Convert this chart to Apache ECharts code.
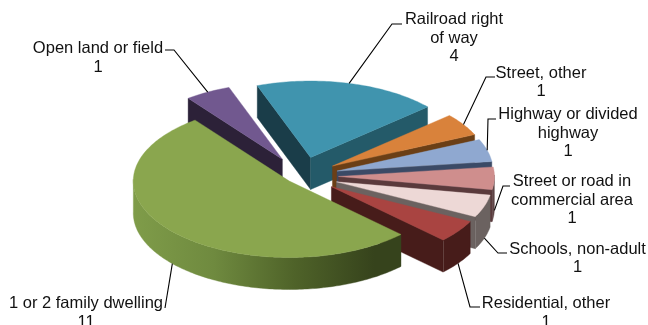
<!DOCTYPE html>
<html><head><meta charset="utf-8">
<style>html,body{margin:0;padding:0;background:#fff}#c{width:648px;height:325px}</style>
<script src="https://cdn.jsdelivr.net/npm/echarts@6/dist/echarts.min.js"></script>
</head><body><div id="c"></div>
<script>
// ---- data (clockwise from the Railroad slice) ----
const categories = ['Railroad right\nof way','Street, other','Highway or divided\nhighway','Street or road in\ncommercial area','Schools, non-adult','Residential, other','1 or 2 family dwelling','Open land or field'];
const counts = [4,1,1,1,1,1,11,1];
// ---- presentation ----
const explodeBy = [.25,.24,.24,.24,.24,.24,.1,.25];
const topColors = ['#4094ae','#d9823b','#8fa8d0','#cf8e8d','#edd8d6','#a94441','#8aa64e','#71588f'];
const cutInColors = ['#1a3d49','#6b3f16','#3b4a66','#5a3a3c','#6b6260','#471c1a','#36431c','#2c2138'];
const cutOutColors = ['#245a69','#6b3f16','#3b4a66','#5a3a3c','#6b6260','#471c1a','#36431c','#2c2138'];
const arcColors = ['#245a69','#6b3f16','#3b4a66','#5f4546','#6b6260','#471c1a',null,'#2c2138'];
const drawOrder = [7,0,1,2,3,4,5,6];
const labelBoxes = [
  {x:454,y:38,line:[[392,24],[402,24]]},
  {x:541,y:82.5,line:[[486,77],[495,77]]},
  {x:568,y:133,line:[[488,119],[496,119]]},
  {x:572,y:200,line:[[503,186],[510,186]]},
  {x:577.5,y:258.5,line:[[498,253],[507,253]]},
  {x:546,y:313,line:[[470,307],[480,307]]},
  {x:86,y:313,line:[[165,308]]},
  {x:98,y:58,line:[[174,50],[165,50]]}
];
const view = {cx:301,cy:176,R:156,k:.49,H:32,start:-20};
const total = counts.reduce((a,b)=>a+b,0);
const rad = d=>d*Math.PI/180;
function project(u,v,down){
  return [view.cx+view.R*u, view.cy-view.R*view.k*v+(down?view.H:0)];
}
function sliceAngles(i){
  let sum=0; for(let j=0;j<i;j++) sum+=counts[j];
  const a=view.start+sum/total*360, b=a+counts[i]/total*360;
  return {a,b,mid:(a+b)/2};
}
function offset(i){
  const m=rad(sliceAngles(i).mid);
  return [explodeBy[i]*Math.sin(m),explodeBy[i]*Math.cos(m)];
}
function rim(i,deg,down){
  const o=offset(i),t=rad(deg);
  return project(o[0]+Math.sin(t),o[1]+Math.cos(t),down);
}
function renderSlice(params,api){
  const i=api.value(0), {a,b}=sliceAngles(i), o=offset(i), kids=[];
  const poly=(pts,fill)=>kids.push({type:'polygon',shape:{points:pts},style:{fill:fill,stroke:fill,lineWidth:.4}});
  const tip=project(o[0],o[1]), tipD=project(o[0],o[1],true);
  // cut faces turned to the viewer
  if(Math.sin(rad(a))<0) poly([tip,rim(i,a),rim(i,a,true),tipD],cutInColors[i]);
  if(-Math.sin(rad(b))<0) poly([tip,rim(i,b),rim(i,b,true),tipD],cutOutColors[i]);
  // outer wall (front-facing part only)
  const up=[],dn=[];
  for(let d=a;d<=b+.001;d+=1){ if(Math.cos(rad(d))<0.03){up.push(rim(i,d));dn.unshift(rim(i,d,true));} }
  if(up.length>1){
    const fill=arcColors[i]||new echarts.graphic.LinearGradient(0,0,1,0,[
      {offset:0,color:'#7f9c49'},{offset:.3,color:'#6f8a3f'},{offset:.6,color:'#4f6329'},{offset:.9,color:'#36431c'},{offset:1,color:'#36431c'}]);
    poly(up.concat(dn),fill);
  }
  const top=[tip]; for(let d=a;d<b;d+=1) top.push(rim(i,d)); top.push(rim(i,b));
  poly(top,topColors[i]);
  return {type:'group',children:kids};
}
function renderLabel(params,api){
  const i=api.value(0), box=labelBoxes[i], m=sliceAngles(i).mid;
  const from = rim(i,m,Math.cos(rad(m))<0);
  return {type:'group',children:[
    {type:'polyline',shape:{points:[from].concat(box.line)},style:{stroke:'#000',lineWidth:1.1,fill:null}},
    {type:'text',style:{text:categories[i]+'\n'+counts[i],x:box.x,y:box.y,align:'center',verticalAlign:'middle',
      font:'16.5px "Liberation Sans", Arial, sans-serif',lineHeight:18.8,fill:'#111'}}
  ]};
}
const chart=echarts.init(document.getElementById('c'),null,{renderer:'canvas'});
chart.setOption({animation:false,backgroundColor:'#fff',
  series:[
    {type:'custom',coordinateSystem:'none',renderItem:renderSlice,silent:true,encode:{value:1},data:drawOrder.map(i=>[i,counts[i]]),z:1},
    {type:'custom',coordinateSystem:'none',renderItem:renderLabel,silent:true,encode:{value:1},data:drawOrder.map(i=>[i,counts[i]]),z:2}
  ]});
</script></body></html>
